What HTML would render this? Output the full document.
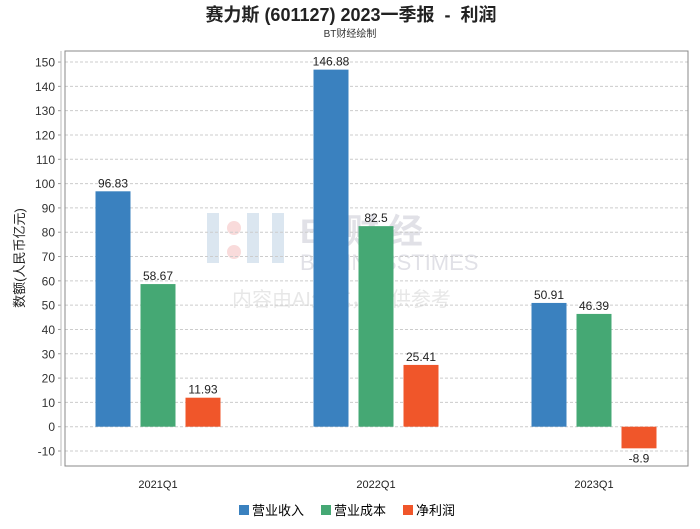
<!DOCTYPE html>
<html><head><meta charset="utf-8"><style>
body{margin:0;background:#fff;width:700px;height:524px;overflow:hidden}
text{font-family:"Liberation Sans","Noto Sans CJK SC",sans-serif}
</style></head><body>
<svg id="chart" width="700" height="524" xmlns="http://www.w3.org/2000/svg">
<text x="351" y="21" text-anchor="middle" font-size="18" font-weight="bold" fill="#222" xml:space="preserve">赛力斯 (601127) 2023一季报  -  利润</text>
<text x="350" y="37" text-anchor="middle" font-size="10" fill="#333">BT财经绘制</text>
<g opacity="0.35">
<rect x="207" y="213" width="12" height="50" fill="#9bb8d6"/><rect x="247" y="213" width="12" height="50" fill="#9bb8d6"/><rect x="272" y="213" width="12" height="50" fill="#9bb8d6"/>
<circle cx="234" cy="228" r="7" fill="#e99"/><circle cx="234" cy="252" r="7" fill="#e99"/>
<text x="300" y="243" font-size="34" font-weight="bold" fill="#aab" font-family="Liberation Serif">BT财 经</text>
<text x="300" y="270" font-size="22" fill="#aab" font-family="Liberation Serif">BUSINESSTIMES</text>
<text x="232" y="306" font-size="20" fill="#bbb">内容由AI生成，仅供参考</text>
</g>
<g id="grid"></g>
<rect x="65" y="51" width="623" height="415" fill="none" stroke="#888"/>
<line x1="61" y1="51" x2="61" y2="466" stroke="#bbb"/>
<g id="bars"></g>
<text transform="translate(24,258) rotate(-90)" text-anchor="middle" font-size="13" fill="#222">数额(人民币亿元)</text>
<g font-size="13">
<g><rect x="239" y="505" width="10" height="10" fill="#3a81bf"/><text x="252" y="515">营业收入</text></g>
<g><rect x="321" y="505" width="10" height="10" fill="#45a874"/><text x="334" y="515">营业成本</text></g>
<g><rect x="403" y="505" width="10" height="10" fill="#f0562a"/><text x="416" y="515">净利润</text></g>
</g>
</svg>
<script>
const categories=["2021Q1","2022Q1","2023Q1"];
const revenue=[96.83,146.88,50.91];
const cost=[58.67,82.5,46.39];
const profit=[11.93,25.41,-8.9];
const yTicks=[-10,0,10,20,30,40,50,60,70,80,90,100,110,120,130,140,150];
const NS="http://www.w3.org/2000/svg";
function y(v){return 426.7-v*2.431;}
function x(i){return 158+i*218;}
function mk(t,a,p){const e=document.createElementNS(NS,t);for(const k in a)e.setAttribute(k,a[k]);p.appendChild(e);return e;}
const grid=document.getElementById('grid');
yTicks.forEach(v=>{
 const l=mk('line',{x1:65,x2:688,y1:y(v),y2:y(v),stroke:'#ccc','stroke-dasharray':'3,2'},grid);
 
 
 mk('line',{x1:58,x2:61,y1:y(v),y2:y(v),stroke:'#999'},grid);
 const t=mk('text',{x:55,y:y(v)+4.5,'text-anchor':'end','font-size':12,fill:'#333'},grid);t.textContent=v;
 
 
});
const bars=document.getElementById('bars');
const series=[[revenue,'#3a81bf',-45],[cost,'#45a874',0],[profit,'#f0562a',45]];
categories.forEach((c,i)=>{
 const t=mk('text',{x:x(i),y:488,'text-anchor':'middle','font-size':11,fill:'#222'},bars);t.textContent=c;
 
 
 series.forEach(([arr,col,off])=>{
  const v=arr[i],cx=x(i)+off;
  const r=mk('rect',{x:cx-17.5,y:Math.min(y(v),y(0)),width:35,height:Math.abs(y(v)-y(0)),fill:col},bars);
  
  
  const ly=v>=0?y(v)-4:y(v)+14;
  const lt=mk('text',{x:cx,y:ly,'text-anchor':'middle','font-size':12,fill:'#222'},bars);lt.textContent=v;
  
  
 });
});
</script>
</body></html>
